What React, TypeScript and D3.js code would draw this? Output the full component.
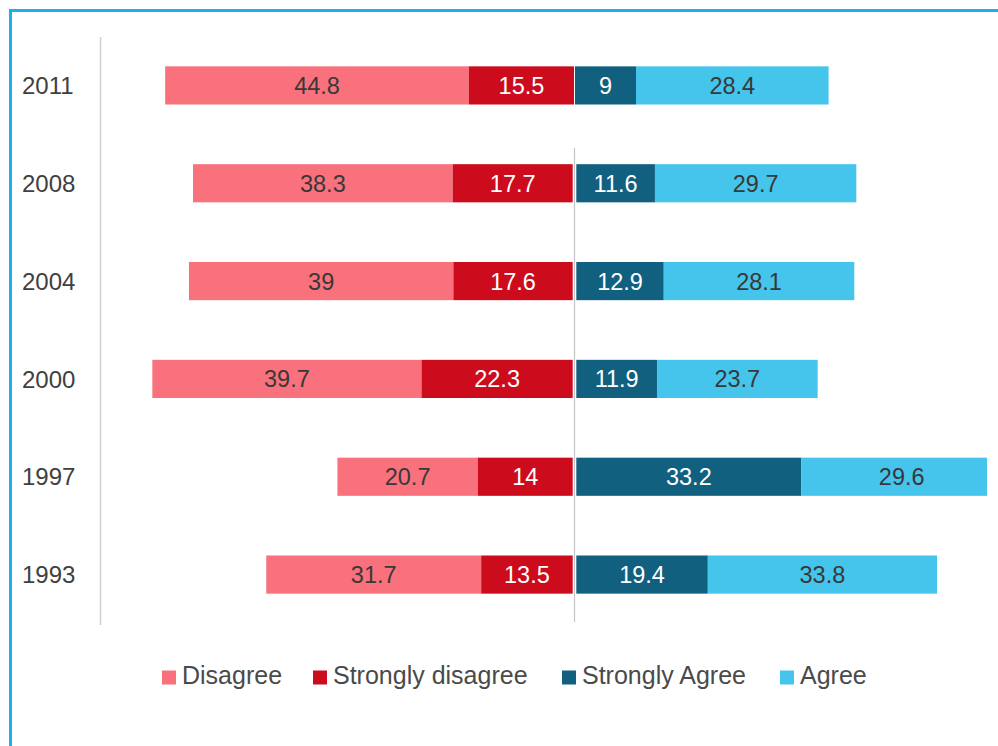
import React from "react";
import * as d3 from "d3";

const years = ["2011", "2008", "2004", "2000", "1997", "1993"];
const disagree = [44.8, 38.3, 39, 39.7, 20.7, 31.7];
const stronglyDisagree = [15.5, 17.7, 17.6, 22.3, 14, 13.5];
const stronglyAgree = [9, 11.6, 12.9, 11.9, 33.2, 19.4];
const agree = [28.4, 29.7, 28.1, 23.7, 29.6, 33.8];
const seriesNames = ["Disagree", "Strongly disagree", "Strongly Agree", "Agree"];
const seriesColors = ["#f8717c", "#cc0b1c", "#12607f", "#45c4ec"];
const labelColors = ["#383838", "#ffffff", "#ffffff", "#383838"];

const W = 998;
const H = 746;

export default function App() {
  const S = 6.78;
  const C = 574.5;
  const x = d3.scaleLinear().domain([-70, 70]).range([C - 70 * S, C + 70 * S]);
  const y = d3.scaleBand().domain(years).range([37, 623]).paddingInner(0.61).paddingOuter(0.3);
  const font = "'Liberation Sans', Arial, sans-serif";

  const rows = years.map((yr, i) => {
    const sd = stronglyDisagree[i];
    const d = disagree[i];
    const sa = stronglyAgree[i];
    const a = agree[i];
    const gap = i === 0 ? 0.5 : 1.8;
    return {
      yr,
      gap,
      segs: [
        { s: 0, x0: -(sd + d), x1: -sd, v: d, side: -1 },
        { s: 1, x0: -sd, x1: 0, v: sd, side: -1 },
        { s: 2, x0: 0, x1: sa, v: sa, side: 1 },
        { s: 3, x0: sa, x1: sa + a, v: a, side: 1 },
      ],
    };
  });

  const legendX = [162, 313, 562, 780];

  return (
    <div style={{ position: "fixed", left: 0, top: 0 }}>
      <svg width={W} height={H} style={{ display: "block", background: "#fff" }}>
        <defs>
          <clipPath id="plotclip">
            <rect x={0} y={0} width={987} height={H} />
          </clipPath>
        </defs>
        <line x1={10.5} x2={10.5} y1={10} y2={H} stroke="#1ab0ee" strokeWidth={3} />
        <line x1={9} x2={W} y1={10.5} y2={10.5} stroke="#1ab0ee" strokeWidth={3} />
        <line x1={100.5} x2={100.5} y1={37} y2={625} stroke="#cfcfcf" strokeWidth={1.5} />
        <line x1={x(0)} x2={x(0)} y1={148} y2={622} stroke="#c4c4c4" strokeWidth={1.2} />
        <g clipPath="url(#plotclip)">
          {rows.map((r) =>
            r.segs.map((sg) => (
              <rect
                key={r.yr + sg.s}
                x={x(sg.x0) + sg.side * r.gap}
                y={y(r.yr)}
                width={x(sg.x1) - x(sg.x0)}
                height={y.bandwidth()}
                fill={seriesColors[sg.s]}
              />
            ))
          )}
        </g>
        {rows.map((r) =>
          r.segs.map((sg) => (
            <text
              key={"t" + r.yr + sg.s}
              x={(x(sg.x0) + x(sg.x1)) / 2 + sg.side * r.gap}
              y={(y(r.yr) as number) + y.bandwidth() / 2}
              dy="0.36em"
              textAnchor="middle"
              fontFamily={font}
              fontSize={23.5}
              fill={labelColors[sg.s]}
            >
              {String(sg.v)}
            </text>
          ))
        )}
        {years.map((yr) => (
          <text
            key={"y" + yr}
            x={22}
            y={(y(yr) as number) + y.bandwidth() / 2}
            dy="0.36em"
            fontFamily={font}
            fontSize={24}
            fill="#404040"
          >
            {yr}
          </text>
        ))}
        {seriesNames.map((n, i) => (
          <g key={n}>
            <rect x={legendX[i]} y={670.5} width={14} height={14} fill={seriesColors[i]} />
            <text x={legendX[i] + 20} y={675} dy="0.36em" fontFamily={font} fontSize={25} fill="#4a4a4a">
              {n}
            </text>
          </g>
        ))}
      </svg>
    </div>
  );
}
